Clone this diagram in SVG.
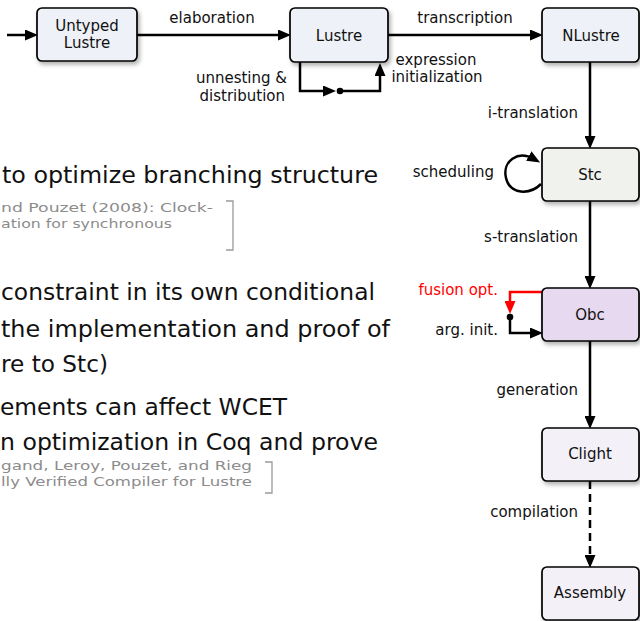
<svg xmlns="http://www.w3.org/2000/svg" width="640" height="621" viewBox="0 0 640 621">
  <defs>
    <filter id="shadow" x="-15%" y="-15%" width="140%" height="150%">
      <feDropShadow dx="2" dy="3" stdDeviation="2" flood-color="#000" flood-opacity="0.3"/>
    </filter>
    <marker id="arrow" viewBox="0 0 13 11" markerWidth="13" markerHeight="11" refX="6" refY="5.5" orient="auto" markerUnits="userSpaceOnUse">
      <path d="M0,0 L13,5.5 L0,11 Z" fill="#000"/>
    </marker>
    <marker id="arrow-red" viewBox="0 0 13 11" markerWidth="13" markerHeight="11" refX="6" refY="5.5" orient="auto" markerUnits="userSpaceOnUse">
      <path d="M0,0 L13,5.5 L0,11 Z" fill="#ff0000"/>
    </marker>
  </defs>
  <style>
    .box { stroke: #000; stroke-width: 1.7; filter: url(#shadow); }
    .src { fill: #eef2f8; }
    .stc { fill: #f0f2ee; }
    .obc { fill: #e7d9ef; }
    .low { fill: #f3f0f8; }
    .node-label { font-family: "DejaVu Sans", "Liberation Sans", sans-serif; font-size: 15px; fill: #111; text-anchor: middle; }
    .edge-label { font-family: "DejaVu Sans", "Liberation Sans", sans-serif; font-size: 15px; fill: #111; }
    .edge { fill: none; stroke: #000; stroke-width: 2.5; marker-end: url(#arrow); }
    .body { font-family: "DejaVu Sans", "Liberation Sans", sans-serif; font-size: 23px; fill: #111; }
    .cite { font-family: "DejaVu Sans", "Liberation Sans", sans-serif; font-size: 12.5px; fill: #8c8c8c; }
    .bracket { fill: none; stroke: #9a9a9a; stroke-width: 1.3; }
  </style>

  <rect width="640" height="621" fill="#fff"/>

  <!-- slide body text (left column) -->
  <g id="body-text">
    <text class="body" x="2" y="183" textLength="376" lengthAdjust="spacingAndGlyphs">to optimize branching structure</text>
    <text class="cite" x="1" y="212" textLength="212" lengthAdjust="spacingAndGlyphs">nd Pouzet (2008): Clock-</text>
    <text class="cite" x="1" y="228" textLength="171" lengthAdjust="spacingAndGlyphs">ation for synchronous</text>
    <path class="bracket" d="M226,201 H233 V250 H226"/>
    <text class="body" x="1" y="300" textLength="374" lengthAdjust="spacingAndGlyphs">constraint in its own conditional</text>
    <text class="body" x="1" y="337" textLength="389" lengthAdjust="spacingAndGlyphs">the implementation and proof of</text>
    <text class="body" x="1" y="372" textLength="107" lengthAdjust="spacingAndGlyphs">re to Stc)</text>
    <text class="body" x="0" y="415" textLength="287" lengthAdjust="spacingAndGlyphs">ements can affect WCET</text>
    <text class="body" x="0" y="450" textLength="378" lengthAdjust="spacingAndGlyphs">n optimization in Coq and prove</text>
    <text class="cite" x="1" y="470" textLength="251" lengthAdjust="spacingAndGlyphs">gand, Leroy, Pouzet, and Rieg</text>
    <text class="cite" x="1" y="486" textLength="251" lengthAdjust="spacingAndGlyphs">lly Verified Compiler for Lustre</text>
    <path class="bracket" d="M265,462 H272 V493 H265"/>
  </g>

  <!-- compiler passes -->
  <g id="connectors">
    <path class="edge" d="M7,35 H31"/>
    <path class="edge" d="M137,35 H284"/>
    <path class="edge" d="M388,35 H536"/>
    <path class="edge" d="M300,62 V91 H329"/>
    <path class="edge" d="M340,91 H380 V70"/>
    <circle cx="340" cy="91" r="3.3" fill="#000"/>
    <path class="edge" d="M590,62 V142"/>
    <path class="edge" d="M541,184 C530,195 510,195 506,178 C502,161 518,150 534,159"/>
    <path class="edge" d="M590,201 V282"/>
    <path d="M542,292 H510 V307" fill="none" stroke="#ff0000" stroke-width="2.5" marker-end="url(#arrow-red)"/>
    <path class="edge" d="M510,317 V333 H536"/>
    <circle cx="510" cy="317" r="3.3" fill="#000"/>
    <path class="edge" d="M590,341 V422"/>
    <path class="edge" d="M590,481 V561" stroke-dasharray="8 5"/>
  </g>

  <g id="edge-labels">
    <text class="edge-label" x="212" y="23" text-anchor="middle">elaboration</text>
    <text class="edge-label" x="465" y="23" text-anchor="middle">transcription</text>
    <text class="edge-label" x="287" y="83" text-anchor="end">unnesting &amp;</text>
    <text class="edge-label" x="285" y="101" text-anchor="end">distribution</text>
    <text class="edge-label" x="436" y="65" text-anchor="middle">expression</text>
    <text class="edge-label" x="437" y="82" text-anchor="middle">initialization</text>
    <text class="edge-label" x="578" y="118" text-anchor="end">i-translation</text>
    <text class="edge-label" x="494" y="177" text-anchor="end">scheduling</text>
    <text class="edge-label" x="578" y="242" text-anchor="end">s-translation</text>
    <text class="edge-label" x="498" y="295" text-anchor="end" style="fill:#ff0000">fusion opt.</text>
    <text class="edge-label" x="498" y="335" text-anchor="end">arg.  init.</text>
    <text class="edge-label" x="578" y="395" text-anchor="end">generation</text>
    <text class="edge-label" x="578" y="517" text-anchor="end">compilation</text>
  </g>

  <g id="untyped-lustre">
    <rect class="box src" x="37" y="8" width="100" height="53" rx="5"/>
    <text class="node-label" x="87" y="31">Untyped</text>
    <text class="node-label" x="87" y="48">Lustre</text>
  </g>
  <g id="lustre">
    <rect class="box src" x="290" y="8" width="98" height="54" rx="5"/>
    <text class="node-label" x="339" y="41">Lustre</text>
  </g>
  <g id="nlustre">
    <rect class="box src" x="542" y="8" width="97" height="54" rx="5"/>
    <text class="node-label" x="591" y="41">NLustre</text>
  </g>
  <g id="stc">
    <rect class="box stc" x="542" y="148" width="97" height="53" rx="5"/>
    <text class="node-label" x="590" y="180">Stc</text>
  </g>
  <g id="obc">
    <rect class="box obc" x="542" y="288" width="97" height="53" rx="5"/>
    <text class="node-label" x="590" y="320">Obc</text>
  </g>
  <g id="clight">
    <rect class="box low" x="542" y="428" width="97" height="53" rx="5"/>
    <text class="node-label" x="590" y="459">Clight</text>
  </g>
  <g id="assembly">
    <rect class="box low" x="542" y="567" width="97" height="53" rx="5"/>
    <text class="node-label" x="590" y="598">Assembly</text>
  </g>
</svg>
